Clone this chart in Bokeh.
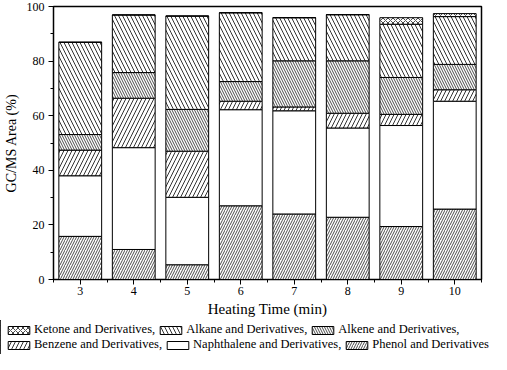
from bokeh.plotting import figure
from bokeh.models import Range1d, FixedTicker, Legend, LegendItem, ColumnDataSource
from bokeh.embed import file_html
from bokeh.resources import INLINE

times = [3, 4, 5, 6, 7, 8, 9, 10]
phenol = [15.8, 11.0, 5.4, 27.0, 24.0, 22.8, 19.4, 25.8]
naphthalene = [22.2, 37.3, 24.7, 35.2, 37.8, 32.7, 37.0, 39.5]
benzene = [9.4, 18.1, 16.9, 3.1, 1.4, 5.4, 4.1, 4.2]
alkene = [5.7, 9.4, 15.3, 7.2, 16.9, 19.2, 13.5, 9.3]
alkane = [33.8, 21.1, 34.2, 25.2, 15.8, 16.9, 19.5, 17.5]
ketone = [0.0, 0.0, 0.0, 0.0, 0.0, 0.0, 2.4, 1.1]

names = ["phenol", "naphthalene", "benzene", "alkene", "alkane", "ketone"]
labels = {
    "ketone": "Ketone and Derivatives,",
    "alkane": "Alkane and Derivatives,",
    "alkene": "Alkene and Derivatives,",
    "benzene": "Benzene and Derivatives,",
    "naphthalene": "Naphthalene and Derivatives,",
    "phenol": "Phenol and Derivatives",
}
source = ColumnDataSource(data=dict(x=times, phenol=phenol, naphthalene=naphthalene,
                                    benzene=benzene, alkene=alkene, alkane=alkane,
                                    ketone=ketone))

FONT = "Liberation Serif"
patterns = ["/", " ", "/", "\\", "\\", "x"]
scales = [5, 8, 8, 5, 8, 5]
weights = [0.7, 1, 0.8, 0.7, 0.8, 0.7]

p = figure(width=499, height=320, output_backend="svg", toolbar_location=None,
           x_range=Range1d(2.5, 10.5), y_range=Range1d(0, 100),
           min_border_left=46, min_border_right=18, min_border_top=6,
           min_border_bottom=41)

renderers = p.vbar_stack(
    names, x="x", width=0.8, source=source,
    fill_color="white", line_color="black", line_width=1,
    hatch_pattern=patterns, hatch_scale=scales, hatch_weight=weights,
    hatch_color="black",
)

p.grid.visible = False
p.outline_line_color = "black"
p.outline_line_width = 1.5
p.background_fill_color = "white"
p.border_fill_color = "white"

p.xaxis.ticker = FixedTicker(ticks=times, minor_ticks=[2.5 + i for i in range(9)])
p.xaxis.axis_label = "Heating Time (min)"
p.yaxis.ticker = FixedTicker(ticks=[0, 20, 40, 60, 80, 100],
                             minor_ticks=[10, 30, 50, 70, 90])
p.yaxis.axis_label = "GC/MS Area (%)"
for ax in (p.xaxis[0], p.yaxis[0]):
    ax.axis_line_color = "black"
    ax.major_tick_line_color = "black"
    ax.minor_tick_line_color = "black"
    ax.major_tick_out = 5
    ax.major_tick_in = 0
    ax.minor_tick_out = 3
    ax.minor_tick_in = 0
    ax.major_label_text_font = FONT
    ax.major_label_text_font_size = "12px"
    ax.major_label_text_color = "black"
    ax.axis_label_text_font = FONT
    ax.axis_label_text_font_style = "normal"
    ax.axis_label_text_color = "black"
p.xaxis.axis_label_text_font_size = "15px"
p.yaxis.axis_label_text_font_size = "14px"
p.xaxis.major_label_standoff = 2
p.xaxis.axis_label_standoff = 3
p.yaxis.major_label_standoff = 4
p.yaxis.axis_label_standoff = 5

# legend strip below the chart (its glyphs use the same data, kept out of view)
lg = figure(width=499, height=34, output_backend="svg", toolbar_location=None,
            x_range=Range1d(100, 101), y_range=Range1d(0, 1),
            x_axis_type=None, y_axis_type=None,
            min_border_left=0, min_border_right=0, min_border_top=0,
            min_border_bottom=0)
lg.grid.visible = False
lg.outline_line_color = None
lg.background_fill_color = "white"
lg.border_fill_color = "white"
lrend = {}
for n, pat, sc, w in zip(names, patterns, scales, weights):
    lrend[n] = lg.vbar(x="x", top=n, width=0.8, source=source,
                       fill_color="white", line_color="black", line_width=1,
                       hatch_pattern=pat, hatch_scale=sc, hatch_weight=w,
                       hatch_color="black")

rows = [(["ketone", "alkane", "alkene"], 17), (["benzene", "naphthalene", "phenol"], 2)]
for keys, vy in rows:
    leg = Legend(
        items=[LegendItem(label=labels[k], renderers=[lrend[k]]) for k in keys],
        orientation="horizontal", location=(5, vy),
        glyph_width=27, glyph_height=10, label_height=12,
        label_text_font=FONT, label_text_font_size="12.5px",
        label_standoff=2, spacing=2, padding=0, margin=0,
        border_line_alpha=0, background_fill_alpha=0,
        label_text_color="black",
    )
    lg.add_layout(leg, "center")

open("out.html", "w").write(file_html([p, lg], INLINE))
